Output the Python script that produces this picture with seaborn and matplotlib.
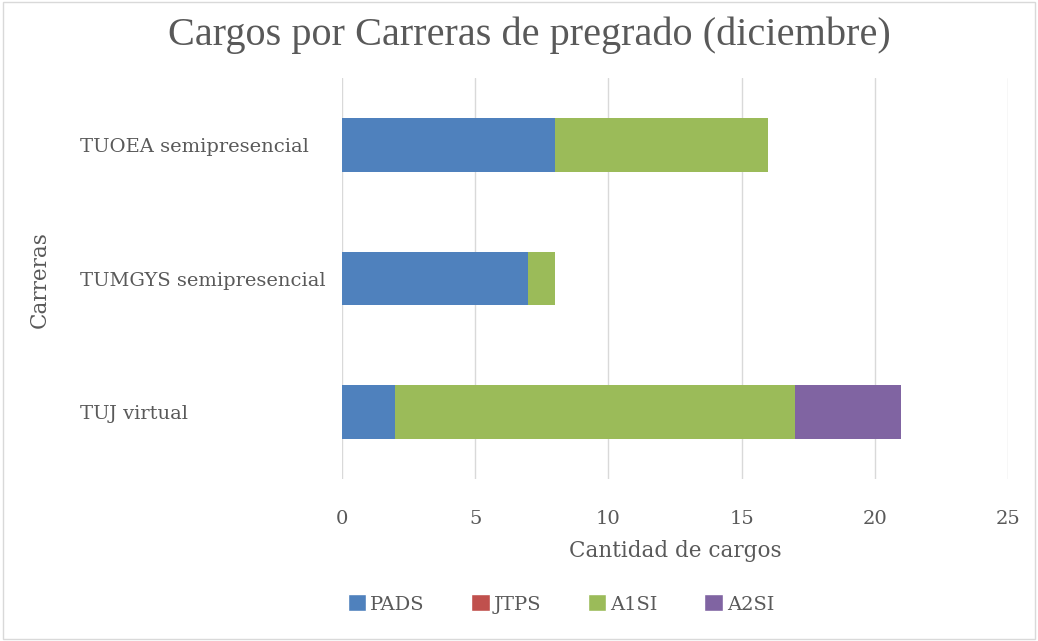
import matplotlib
matplotlib.use("Agg")
import matplotlib.pyplot as plt
import seaborn as sns
import pandas as pd
import numpy as np
from matplotlib.patches import Patch, Rectangle

carreras = ["TUOEA semipresencial", "TUMGYS semipresencial", "TUJ virtual"]
series = ["PADS", "JTPS", "A1SI", "A2SI"]
pads = [8, 7, 2]
jtps = [0, 0, 0]
a1si = [8, 1, 15]
a2si = [0, 0, 4]
colors = {"PADS": "#4f81bd", "JTPS": "#c0504d", "A1SI": "#9bbb59", "A2SI": "#8064a2"}

sns.set_theme(style="white")
plt.rcParams['font.family'] = ['DejaVu Serif']

df = pd.DataFrame({"Carrera": carreras, "PADS": pads, "JTPS": jtps, "A1SI": a1si, "A2SI": a2si})
cum = df[series].cumsum(axis=1)

fig = plt.figure(figsize=(10.38, 6.41), dpi=100)
ax = fig.add_axes([342/1038, 1-479/641, 666/1038, 401/641])

for s in reversed(series):
    sns.barplot(x=cum[s].values, y=df["Carrera"], orient="h", color=colors[s],
                width=0.4, ax=ax, saturation=1, linewidth=0)

ax.set_xlim(0, 25)
ax.set_ylim(2.5, -0.5)
ax.set_xticks([0, 5, 10, 15, 20, 25])
ax.grid(axis="x", color="#d9d9d9", linewidth=1)
ax.set_axisbelow(True)
for sp in ax.spines.values():
    sp.set_visible(False)
ax.tick_params(axis="x", colors="#595959", labelsize=14, length=0, pad=22)
ax.tick_params(axis="y", colors="#595959", labelsize=14, length=0, pad=0)
for lab in ax.get_yticklabels():
    lab.set_horizontalalignment("left")
    lab.set_x(-262/666)
ax.set_xlabel("")
ax.set_ylabel("")

fig.text(675/1038, 1-551/641, "Cantidad de cargos", ha="center", va="center", fontsize=15.5, color="#595959")
fig.text(40/1038, 1-280/641, "Carreras", ha="center", va="center", rotation=90, fontsize=15.5, color="#595959")
fig.text(529/1038, 1-35/641, "Cargos por Carreras de pregrado (diciembre)", ha="center", va="center",
         fontsize=29, color="#595959", family=['Liberation Serif'])

handles = [Patch(facecolor=colors[s], label=s) for s in series]
fig.legend(handles=handles, loc="center", bbox_to_anchor=(561/1038, 1-604/641), ncol=4, frameon=False,
           fontsize=14, handlelength=0.95, handleheight=0.95, handletextpad=0.2, columnspacing=2.4,
           labelcolor="#595959")

fig.patches.append(Rectangle((0.003, 0.003), 0.994, 0.994, transform=fig.transFigure,
                             fill=False, edgecolor="#d9d9d9", linewidth=1))

fig.savefig("out.png", dpi=100, facecolor="white")
